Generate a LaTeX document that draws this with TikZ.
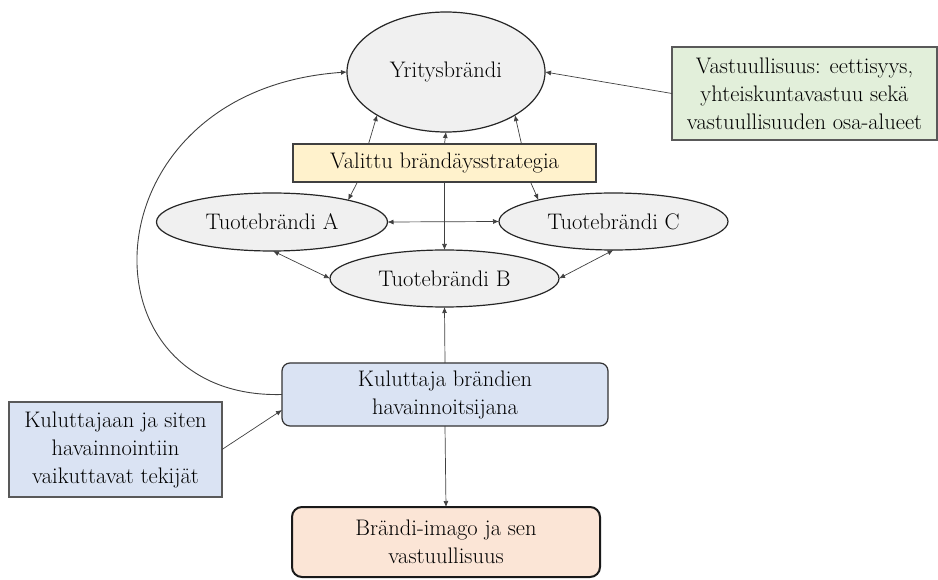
\documentclass[tikz,border=0pt]{standalone}
\usepackage{fontspec}
\usetikzlibrary{arrows.meta,shapes.geometric,calc}
\definecolor{ellfill}{HTML}{F0F0F0}
\definecolor{yelfill}{HTML}{FFF2CC}
\definecolor{grnfill}{HTML}{E2EFDA}
\definecolor{blufill}{HTML}{DAE3F3}
\definecolor{pchfill}{HTML}{FBE5D6}
\definecolor{linec}{HTML}{404040}
\begin{document}
\begin{tikzpicture}[x=1pt,y=-1pt,
  every node/.style={font=\rmfamily\fontsize{22.5}{28}\selectfont, inner sep=0pt, outer sep=0pt, text=black, align=center},
  ell/.style={ellipse, draw=black!85, line width=1.2pt, fill=ellfill},
  sqbox/.style={rectangle, draw=black!65, line width=1.2pt},
  rbox/.style={rectangle, rounded corners=8pt, draw=black!80, line width=1.2pt},
  conn/.style={draw=linec, line width=0.7pt, -{Latex[length=6pt,width=5pt]}},
  dconn/.style={draw=linec, line width=0.7pt, {Latex[length=6pt,width=5pt]}-{Latex[length=6pt,width=5pt]}}
]
\useasboundingbox (0,0) rectangle (938,580);

\node[ell, minimum width=198pt, minimum height=120pt] (yb) at (446,72) {Yritysbrändi};
\node[sqbox, draw=black!75, fill=yelfill, minimum width=303pt, minimum height=38pt] (val) at (444.5,163) {Valittu brändäysstrategia};
\node[sqbox, fill=grnfill, minimum width=265pt, minimum height=93pt] (vast) at (804.5,93.5) {Vastuullisuus: eettisyys,\\yhteiskuntavastuu sekä\\vastuullisuuden osa-alueet};
\node[ell, minimum width=231pt, minimum height=58pt] (A) at (272,222) {Tuotebrändi A};
\node[ell, minimum width=229pt, minimum height=57pt] (B) at (444.5,278.5) {Tuotebrändi B};
\node[ell, minimum width=229pt, minimum height=57pt] (C) at (613.5,221.5) {Tuotebrändi C};
\node[rbox, fill=blufill, minimum width=326pt, minimum height=63pt] (kul) at (445,394.5) {Kuluttaja brändien\\havainnoitsijana};
\node[sqbox, fill=blufill, minimum width=213pt, minimum height=95pt] (kk) at (115.5,449.5) {Kuluttajaan ja siten\\havainnointiin\\vaikuttavat tekijät};
\node[rbox, rounded corners=10pt, draw=black!90, line width=2pt, fill=pchfill, minimum width=308pt, minimum height=70pt] (img) at (446,542) {Brändi-imago ja sen\\vastuullisuus};

% Valittu -> Yritysbrandi
\draw[conn] ([xshift=-76pt]val.north) -- (yb.212);
\draw[conn] (val.north) -- (yb.south);
\draw[conn] ([xshift=77pt]val.north) -- (yb.328);
% Valittu -> product brands
\draw[conn] ([xshift=-87pt]val.south) -- (A.16);
\draw[conn] ([xshift=86pt]val.south) -- (C.164);
\draw[conn] (val.south) -- (B.north);
% between product brands
\draw[dconn] (A.east) -- (C.west);
\draw[dconn] (A.272) -- (B.west);
\draw[dconn] (C.south) -- (B.east);
% Vastuullisuus -> Yritysbrandi
\draw[conn] (vast.west) -- (yb.east);
% Kuluttaja
\draw[conn] (kul.north) -- (B.south);
\draw[conn] (kul.south) -- (img.north);
\draw[conn] (kk.east) -- ([yshift=-15.5pt]kul.west);
\draw[conn, line width=0.9pt] (kul.west) .. controls (75,400) and (85,90) .. (yb.west);
\end{tikzpicture}
\end{document}
